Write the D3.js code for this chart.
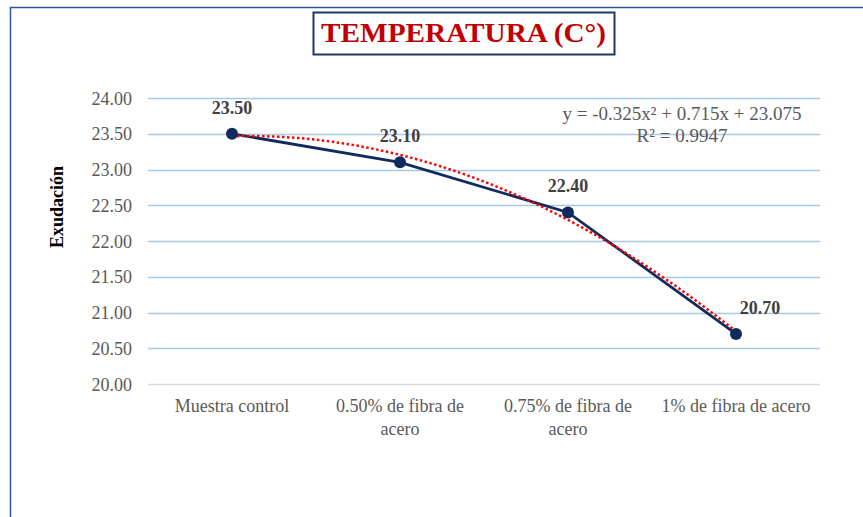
<!DOCTYPE html>
<html>
<head>
<meta charset="utf-8">
<script src="https://cdn.jsdelivr.net/npm/d3@7"></script>
<style>
    body { margin: 0; background: #fff; }
    svg text { font-family: "Liberation Serif", "Times New Roman", serif; }
</style>
</head>
<body>
<svg id="svg" width="863" height="517"></svg>
<script>
// chart data
var categories = ["Muestra control", "0.50% de fibra de acero", "0.75% de fibra de acero", "1% de fibra de acero"];
var values = [23.50, 23.10, 22.40, 20.70];
var yTicks = [20.00, 20.50, 21.00, 21.50, 22.00, 22.50, 23.00, 23.50, 24.00];
var trendCoef = [-0.325, 0.715, 23.075]; // a x^2 + b x + c
var trendText = ["y = -0.325x\u00b2 + 0.715x + 23.075", "R\u00b2 = 0.9947"];

var SERIF = "Liberation Serif, Times New Roman, serif";

var svg = d3.select("#svg");
var margin = {top: 98, left: 148, right: 43, bottom: 133};
var width = 863 - margin.left - margin.right;
var height = 517 - margin.top - margin.bottom;

// outer frame (only top and left edges visible in the crop)
svg.append("path")
    .attr("d", "M10.5,517 L10.5,7.5 L863,7.5")
    .attr("fill", "none").attr("stroke", "#2f5597").attr("stroke-width", 1.5);

// title box
svg.append("rect")
    .attr("x", 313.5).attr("y", 12.5).attr("width", 301).attr("height", 42)
    .attr("fill", "#fff").attr("stroke", "#1f3864").attr("stroke-width", 2);
svg.append("text")
    .attr("x", 321).attr("y", 42)
    .attr("fill", "#c00000")
    .attr("font-family", SERIF)
    .attr("textLength", 285).attr("lengthAdjust", "spacingAndGlyphs")
    .style("font-size", "27px").style("font-weight", "bold")
    .text("TEMPERATURA (C\u00b0)");

var g = svg.append("g").attr("transform", "translate(" + margin.left + "," + margin.top + ")");

var x = d3.scaleBand().domain(categories).range([0, width]);
var y = d3.scaleLinear().domain([20, 24]).range([height, 0]);

// gridlines
g.append("g").selectAll("line")
    .data(yTicks)
    .enter().append("line")
    .attr("x1", 0).attr("x2", width)
    .attr("y1", function(d) { return Math.round(y(d)) + 0.5; })
    .attr("y2", function(d) { return Math.round(y(d)) + 0.5; })
    .attr("stroke", function(d) { return d === 20 ? "#d9d9d9" : "#a8c8e8"; })
    .attr("stroke-width", 1.5);

// y axis labels
var yAxis = g.append("g").call(d3.axisLeft(y).tickValues(yTicks).tickFormat(d3.format(".2f")).tickSize(0).tickPadding(16));
yAxis.attr("font-family", SERIF).attr("font-size", 18);
yAxis.select(".domain").remove();
yAxis.selectAll("text")
    .attr("fill", "#595959")
    .attr("dy", "0.34em");

// x axis labels (wrapped like Excel)
var xAxis = g.append("g").attr("transform", "translate(0," + height + ")")
    .call(d3.axisBottom(x).tickSize(0).tickPadding(0).tickFormat(""));
xAxis.attr("font-family", SERIF).attr("font-size", 18);
xAxis.select(".domain").remove();
xAxis.selectAll(".tick").each(function(d) {
    var lines = d.length > 20 && d.indexOf("1%") !== 0 ? [d.replace(/ acero$/, ""), "acero"] : [d];
    var t = d3.select(this).append("text")
        .attr("fill", "#595959")
        .attr("text-anchor", "middle");
    lines.forEach(function(l, i) {
        t.append("tspan").attr("x", 0).attr("y", 28 + i * 23).text(l);
    });
});

// y axis title
svg.append("text")
    .attr("transform", "translate(63,207) rotate(-90)")
    .attr("text-anchor", "middle")
    .attr("fill", "#000")
    .attr("font-family", SERIF)
    .style("font-size", "18px").style("font-weight", "bold")
    .text("Exudación");

var cx = function(d, i) { return x(categories[i]) + x.bandwidth() / 2; };

// polynomial trend line (red dotted)
var trendPts = d3.range(1, 4.001, 0.05).map(function(t) {
    return [x(categories[0]) + x.bandwidth() / 2 + (t - 1) * x.step(),
            y(trendCoef[0] * t * t + trendCoef[1] * t + trendCoef[2])];
});

// data line
g.append("path")
    .datum(values)
    .attr("fill", "none")
    .attr("stroke", "#0f2a5c")
    .attr("stroke-width", 2.75)
    .attr("d", d3.line().x(cx).y(function(d) { return y(d); }));

g.append("path")
    .datum(trendPts)
    .attr("fill", "none")
    .attr("stroke", "#ff0000")
    .attr("stroke-width", 2.5)
    .attr("stroke-dasharray", "2.5,2.5")
    .attr("d", d3.line());

// markers
g.selectAll("circle.pt")
    .data(values)
    .enter().append("circle")
    .attr("class", "pt")
    .attr("cx", cx)
    .attr("cy", function(d) { return y(d); })
    .attr("r", 6)
    .attr("fill", "#0f2a5c");

// data labels
var labelDx = [0, 0, 0, 24];
g.selectAll("text.lbl")
    .data(values)
    .enter().append("text")
    .attr("class", "lbl")
    .attr("x", function(d, i) { return cx(d, i) + labelDx[i]; })
    .attr("y", function(d) { return y(d) - 20; })
    .attr("text-anchor", "middle")
    .attr("fill", "#404040")
    .attr("font-family", SERIF)
    .style("font-size", "18px").style("font-weight", "bold")
    .text(function(d) { return d3.format(".2f")(d); });

// trend equation
var eq = svg.append("text")
    .attr("fill", "#595959")
    .attr("text-anchor", "middle")
    .attr("font-family", SERIF)
    .style("font-size", "19px");
trendText.forEach(function(s, i) {
    eq.append("tspan").attr("x", 682).attr("y", 120 + i * 22).text(s);
});
</script>
</body>
</html>
